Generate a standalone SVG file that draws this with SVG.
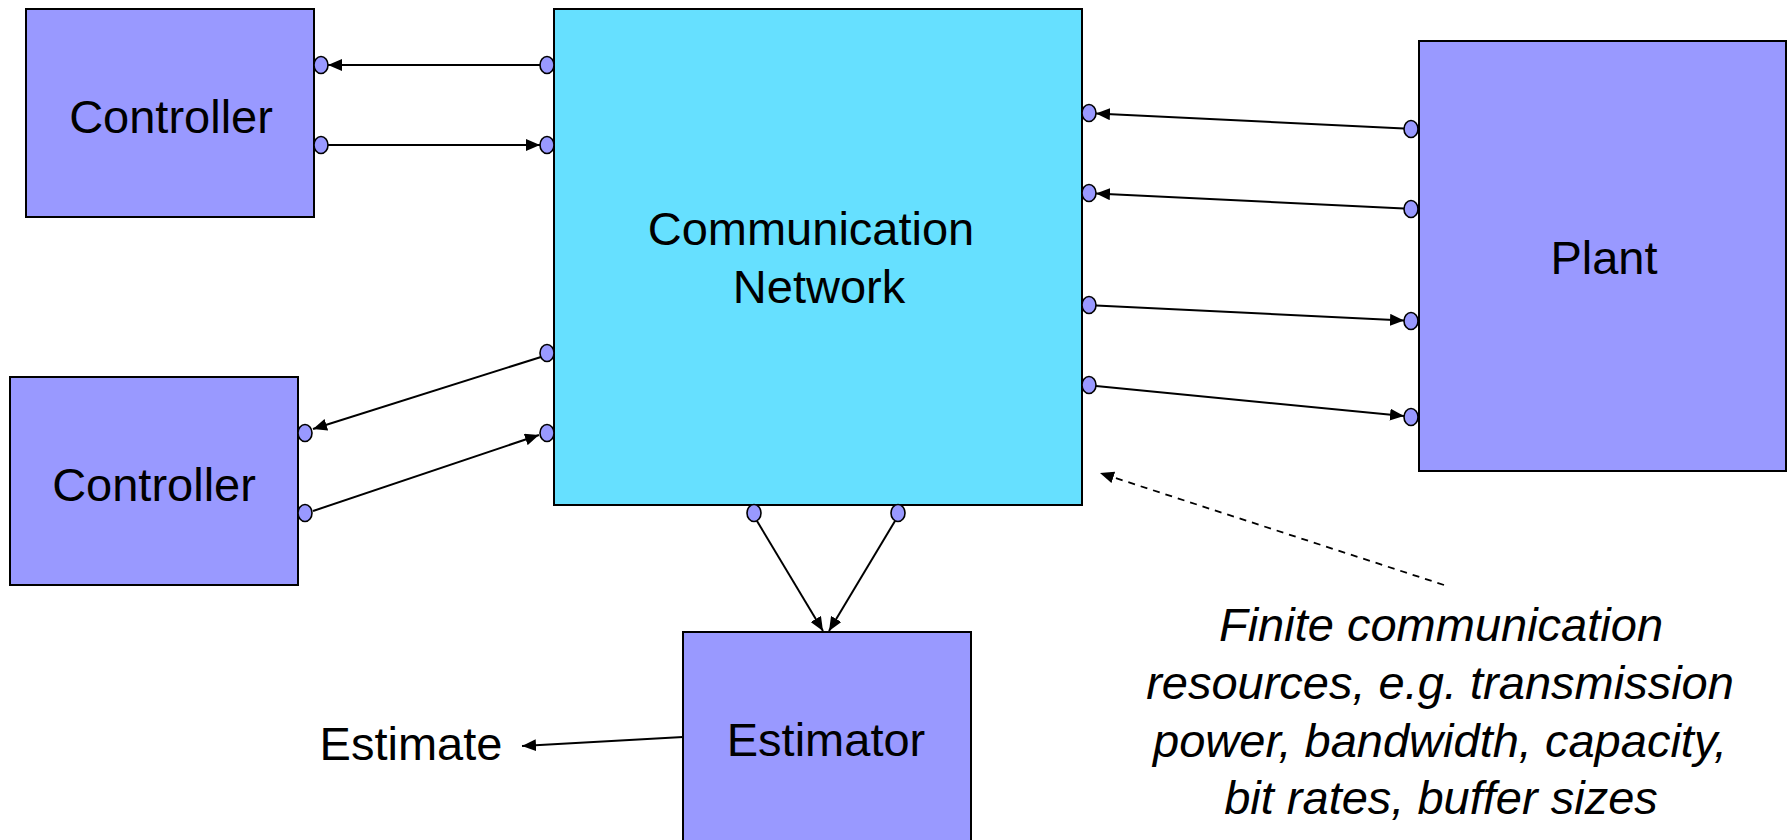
<svg xmlns="http://www.w3.org/2000/svg" width="1790" height="840" viewBox="0 0 1790 840">
  <style>
    .block { fill: #9999FF; stroke: #000; stroke-width: 2; }
    .net { fill: #66E0FF; stroke: #000; stroke-width: 2; }
    .port { fill: #9999FF; stroke: #000; stroke-width: 1.6; }
    .label { font-family: "Liberation Sans", Arial, sans-serif; font-size: 47px; fill: #000; text-anchor: middle; }
    .note { font-family: "Liberation Sans", Arial, sans-serif; font-size: 47px; font-style: italic; fill: #000; text-anchor: middle; }
    .wire { stroke: #000; stroke-width: 2; fill: none; marker-end: url(#head); }
    .dash { stroke: #000; stroke-width: 1.8; fill: none; stroke-dasharray: 7 6; marker-end: url(#head); }
  </style>
  <defs>
    <marker id="head" viewBox="0 0 14 12" refX="14" refY="6" markerWidth="14" markerHeight="12" markerUnits="userSpaceOnUse" orient="auto">
      <path d="M0,0 L14,6 L0,12 z" fill="#000"/>
    </marker>
  </defs>

  <rect width="1790" height="840" fill="#fff"/>

  <g id="network">
    <rect class="net" x="554" y="9" width="528" height="496"/>
    <text class="label" x="811" y="245">Communication</text>
    <text class="label" x="819" y="303">Network</text>
    <ellipse class="port" cx="547" cy="65" rx="7" ry="8.5"/>
    <ellipse class="port" cx="547" cy="145" rx="7" ry="8.5"/>
    <ellipse class="port" cx="547" cy="353" rx="7" ry="8.5"/>
    <ellipse class="port" cx="547" cy="433" rx="7" ry="8.5"/>
    <ellipse class="port" cx="1089" cy="113" rx="7" ry="8.5"/>
    <ellipse class="port" cx="1089" cy="193" rx="7" ry="8.5"/>
    <ellipse class="port" cx="1089" cy="305" rx="7" ry="8.5"/>
    <ellipse class="port" cx="1089" cy="385" rx="7" ry="8.5"/>
    <ellipse class="port" cx="754" cy="513" rx="7" ry="8.5"/>
    <ellipse class="port" cx="898" cy="513" rx="7" ry="8.5"/>
  </g>

  <g id="controller-1">
    <rect class="block" x="26" y="9" width="288" height="208"/>
    <text class="label" x="171" y="133">Controller</text>
    <ellipse class="port" cx="321" cy="65" rx="7" ry="8.5"/>
    <ellipse class="port" cx="321" cy="145" rx="7" ry="8.5"/>
  </g>

  <g id="controller-2">
    <rect class="block" x="10" y="377" width="288" height="208"/>
    <text class="label" x="154" y="501">Controller</text>
    <ellipse class="port" cx="305" cy="433" rx="7" ry="8.5"/>
    <ellipse class="port" cx="305" cy="513" rx="7" ry="8.5"/>
  </g>

  <g id="plant">
    <rect class="block" x="1419" y="41" width="367" height="430"/>
    <text class="label" x="1604" y="274">Plant</text>
    <ellipse class="port" cx="1411" cy="129" rx="7" ry="8.5"/>
    <ellipse class="port" cx="1411" cy="209" rx="7" ry="8.5"/>
    <ellipse class="port" cx="1411" cy="321" rx="7" ry="8.5"/>
    <ellipse class="port" cx="1411" cy="417" rx="7" ry="8.5"/>
  </g>

  <g id="estimator">
    <rect class="block" x="683" y="632" width="288" height="220"/>
    <text class="label" x="826" y="756">Estimator</text>
  </g>

  <g id="estimate-label">
    <text class="label" x="411" y="760">Estimate</text>
  </g>

  <g id="resources-note">
    <text class="note" x="1441" y="641">Finite communication</text>
    <text class="note" x="1440" y="699">resources, e.g. transmission</text>
    <text class="note" x="1440" y="757">power, bandwidth, capacity,</text>
    <text class="note" x="1441" y="814">bit rates, buffer sizes</text>
  </g>

  <g id="connectors">
    <line class="wire" x1="540" y1="65" x2="328" y2="65"/>
    <line class="wire" x1="328" y1="145" x2="540" y2="145"/>
    <line class="wire" x1="541" y1="357" x2="313" y2="429"/>
    <line class="wire" x1="313" y1="511" x2="539" y2="435"/>
    <line class="wire" x1="1404" y1="128.5" x2="1096" y2="113.5"/>
    <line class="wire" x1="1404" y1="208.5" x2="1096" y2="193.5"/>
    <line class="wire" x1="1096" y1="305.5" x2="1404" y2="320.5"/>
    <line class="wire" x1="1096" y1="386" x2="1404" y2="416"/>
    <line class="wire" x1="757" y1="521" x2="823" y2="631"/>
    <line class="wire" x1="895" y1="521" x2="829" y2="631"/>
    <line class="wire" x1="683" y1="737" x2="522" y2="746"/>
    <line class="dash" x1="1444" y1="585" x2="1100" y2="473"/>
  </g>
</svg>
